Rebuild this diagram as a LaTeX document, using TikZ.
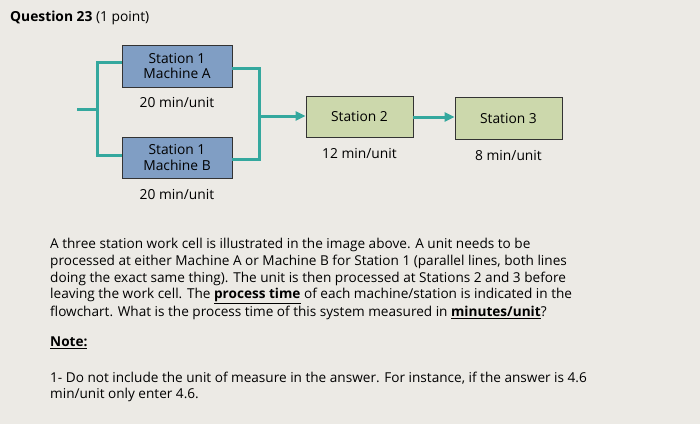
\documentclass[tikz,border=0pt]{standalone}
\usepackage{fontspec}
\setmainfont{Open Sans}
\usetikzlibrary{arrows.meta}
\begin{document}
\begin{tikzpicture}[x=1pt,y=-1pt,
 bx/.style={draw=black!80,line width=0.8pt,minimum width=110pt,inner sep=0pt,font=\fontsize{13.8}{15.5}\selectfont,align=center},
 lbl/.style={font=\fontsize{13.8}{15}\selectfont},
 tx/.style={anchor=west,inner sep=0pt,font=\fontsize{13.6}{15}\selectfont}]
\definecolor{bg}{RGB}{236,234,229}
\definecolor{bl}{RGB}{128,158,196}
\definecolor{gr}{RGB}{204,216,172}
\definecolor{tl}{RGB}{52,168,158}
\tikzset{ln/.style={tl,line width=3pt}, ar/.style={ln,-{Triangle[length=10pt,width=9pt]}}}
\fill[bg] (0,0) rectangle (700,424);
\node[tx,font=\fontsize{13.8}{15}\selectfont\bfseries] (q) at (10,18) {Question 23 \mdseries(1 point)};
\node[bx,fill=bl,minimum height=42pt] (A) at (177,66) {Station 1\\Machine A};
\node[bx,fill=bl,minimum height=41pt] (B) at (177,157.5) {Station 1\\Machine B};
\node[bx,fill=gr,minimum width=107pt,minimum height=41pt] (S2) at (359.5,116.5) {Station 2};
\node[bx,fill=gr,minimum width=107pt,minimum height=42pt] (S3) at (508.5,118) {Station 3};
\node[lbl] (la) at (177,102) {20 min/unit};
\node[lbl] (lb) at (177,194) {20 min/unit};
\node[lbl] (l2) at (359.5,153) {12 min/unit};
\node[lbl] (l3) at (508.5,155) {8 min/unit};
\coordinate (in) at (77,109);
\coordinate (jl) at (97,109);
\coordinate (jr) at (259,116);
\draw[ln] (in) -- (jl);
\draw[ln] (A.west|-0,62) -| (jl) |- (B.west|-0,155);
\draw[ln] (A.east|-0,68) -| (jr) |- (B.east|-0,159);
\draw[ar] (jr) -- (S2.west|-jr);
\draw[ar] (S2.east|-0,117) -- (S3.west|-0,117);
\node[tx] (p1) at (50,245) {A three station work cell is illustrated in the image above. A unit needs to be};
\node[tx] (p2) at (50,262) {processed at either Machine A or Machine B for Station 1 (parallel lines, both lines};
\node[tx] (p3) at (50,279) {doing the exact same thing). The unit is then processed at Stations 2 and 3 before};
\node[tx] (p4) at (50,296) {leaving the work cell. The \textbf{\underline{process time}} of each machine/station is indicated in the};
\node[tx] (p5) at (50,313) {flowchart. What is the process time of this system measured in \textbf{\underline{minutes/unit}}?};
\node[tx] (n) at (50,343) {\textbf{\underline{Note:}}};
\node[tx] (p6) at (50,378) {1- Do not include the unit of measure in the answer. For instance, if the answer is 4.6};
\node[tx] (p7) at (50,395) {min/unit only enter 4.6.};
\end{tikzpicture}
\end{document}
